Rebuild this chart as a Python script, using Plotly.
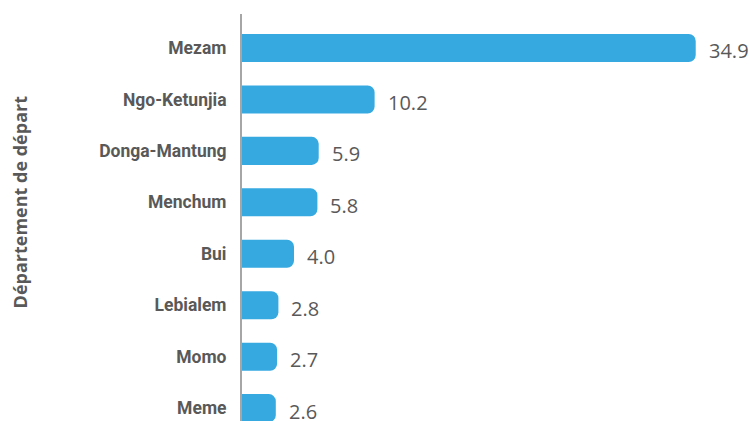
import plotly.graph_objects as go

departements = ["Mezam", "Ngo-Ketunjia", "Donga-Mantung", "Menchum", "Bui", "Lebialem", "Momo", "Meme"]
valeurs = [34.9, 10.2, 5.9, 5.8, 4.0, 2.8, 2.7, 2.6]
etiquettes = ["34.9", "10.2", "5.9", "5.8", "4.0", "2.8", "2.7", "2.6"]
titre_axe = "Département de départ"

BAR_COLOR = "#36A9E1"
TEXT_GRAY = "#595959"

fig = go.Figure()
fig.add_trace(go.Bar(
    x=valeurs,
    y=departements,
    orientation="h",
    marker=dict(color=BAR_COLOR, cornerradius=7, line=dict(width=0)),
    width=0.545,
    hoverinfo="skip",
))

for d, v, t in zip(departements, valeurs, etiquettes):
    fig.add_annotation(
        x=v, y=d, xref="x", yref="y", text=t, showarrow=False,
        xanchor="left", yanchor="middle", xshift=11, yshift=-3,
        font=dict(family="Open Sans, sans-serif", size=20, color=TEXT_GRAY),
    )

fig.add_annotation(
    text=titre_axe, xref="paper", yref="paper",
    x=-0.444, y=0.537, xanchor="center", yanchor="middle",
    textangle=-90, showarrow=False,
    font=dict(family="Open Sans, sans-serif", size=18, color=TEXT_GRAY, weight="bold"),
)

fig.update_layout(
    width=749, height=421,
    margin=dict(l=242, r=7, t=14, b=0),
    paper_bgcolor="white", plot_bgcolor="white",
    showlegend=False,
    xaxis=dict(range=[0, 38.46], visible=False, fixedrange=True),
    yaxis=dict(
        type="category",
        categoryorder="array", categoryarray=departements,
        range=[7.25, -0.66],
        showline=True, linecolor="#A6A6A6", linewidth=2,
        showgrid=False, zeroline=False,
        ticks="outside", ticklen=10, tickcolor="rgba(0,0,0,0)",
        tickfont=dict(family="Roboto, sans-serif", size=17.5, color=TEXT_GRAY, weight="bold"),
        fixedrange=True,
    ),
)

fig.write_html(
    "out.html",
    config={"displayModeBar": False},
    post_script="document.body.style.margin='0';document.body.style.overflow='hidden';",
)
